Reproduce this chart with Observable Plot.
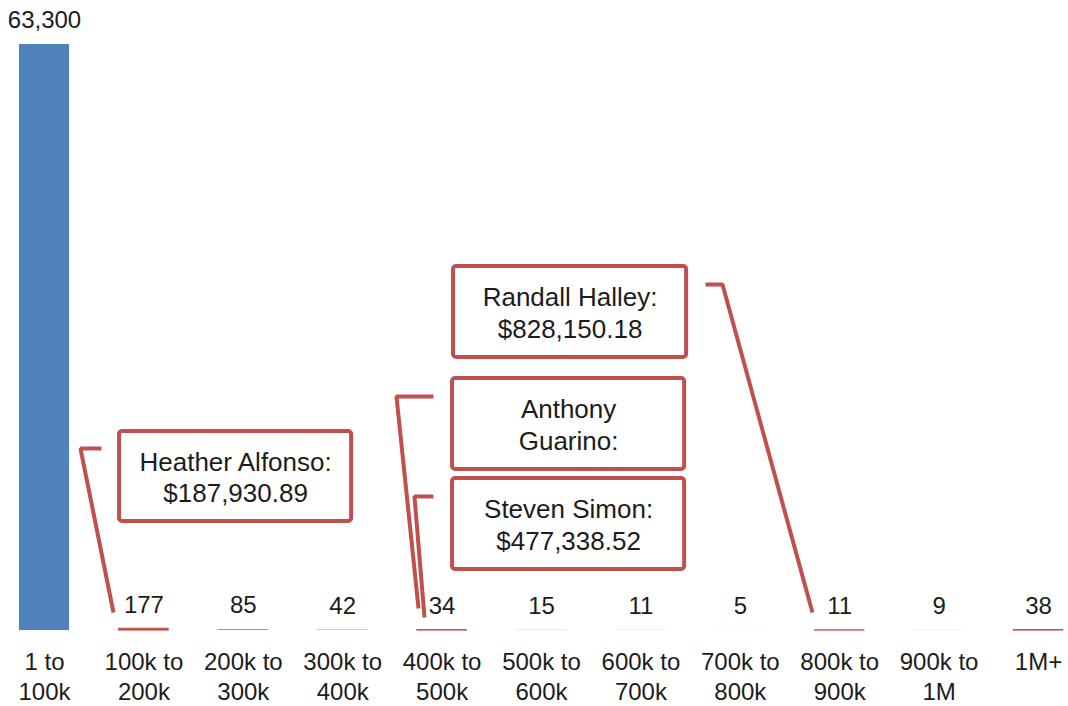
<!DOCTYPE html>
<html>
<head>
<meta charset="utf-8">
<script src="https://cdn.jsdelivr.net/npm/d3@7"></script>
<script src="https://cdn.jsdelivr.net/npm/@observablehq/plot@0.6"></script>
<style>
  html, body { margin: 0; padding: 0; background: #fff; }
  #chart svg { display: block; }
</style>
</head>
<body>
<div id="chart"></div>
<script>
// ---- data ----
const categories = ["1 to\n100k", "100k to\n200k", "200k to\n300k", "300k to\n400k", "400k to\n500k",
  "500k to\n600k", "600k to\n700k", "700k to\n800k", "800k to\n900k", "900k to\n1M", "1M+"];
const counts = [63300, 177, 85, 42, 34, 15, 11, 5, 11, 9, 38];
const highlighted = [false, true, false, false, true, false, false, false, true, false, true];

// callout texts
const calloutTexts = ["Heather Alfonso:\n$187,930.89", "Anthony\nGuarino:", "Steven Simon:\n$477,338.52", "Randall Halley:\n$828,150.18"];

// ---- annotation layout (category index units, count units) ----
const calloutBoxes = [
  {x1: 0.755, x2: 3.09, top: 21500, bottom: 11780},
  {x1: 4.105, x2: 6.44, top: 27220, bottom: 17390},
  {x1: 4.105, x2: 6.44, top: 16420, bottom: 6590},
  {x1: 4.115, x2: 6.46, top: 39320, bottom: 29490}
];
const leaderPaths = [
  [[0.573, 19660], [0.362, 19660], [0.694, 1944]],
  [[3.913, 25277], [3.541, 25277], [3.763, 2376]],
  [[3.913, 14475], [3.722, 14475], [3.823, 1404]],
  [[6.650, 37375], [6.821, 37375], [7.726, 1944]]
];

const BLUE = "#4F81BD", RED = "#C0504D", INK = "#1c1c1c";

const bars = counts.map((v, i) => ({i, v, hl: highlighted[i]}));
const boxes = calloutBoxes.map((b, k) => ({...b, text: calloutTexts[k], cx: (b.x1 + b.x2) / 2, cy: (b.top + b.bottom) / 2}));
const leaders = leaderPaths.flatMap((p, k) => p.map(([x, y]) => ({k, x, y})));

const chart = Plot.plot({
  width: 1068,
  height: 706,
  marginTop: 44,
  marginBottom: 76,
  marginLeft: 0,
  marginRight: 0,
  style: {fontFamily: "'Liberation Sans', Arial, sans-serif", color: INK, background: "#fff"},
  x: {type: "linear", domain: [-0.5, 10.5], range: [-5.7, 1087.7]},
  y: {domain: [0, 63300], axis: null},
  marks: [
    Plot.rectY(bars.filter(d => !d.hl), {x1: d => d.i - 0.252, x2: d => d.i + 0.252, y1: 0, y2: "v",
      fill: BLUE}),
    Plot.rectY(bars.filter(d => d.hl), {x1: d => d.i - 0.248, x2: d => d.i + 0.248, y1: 0, y2: "v",
      fill: RED, stroke: RED, strokeWidth: 1.2}),
    Plot.text(bars, {x: "i", y: "v", text: d => d3.format(",")(d.v), dy: -24,
      fontSize: 24, fill: INK}),
    Plot.axisX({ticks: d3.range(categories.length), tickFormat: i => categories[i],
      tickSize: 0, tickPadding: 18, fontSize: 24, lineHeight: 1.25, fill: INK, label: null}),
    Plot.line(leaders, {x: "x", y: "y", z: "k", stroke: RED, strokeWidth: 4,
      strokeLinejoin: "miter", strokeLinecap: "butt"}),
    Plot.rect(boxes, {x1: "x1", x2: "x2", y1: "bottom", y2: "top", fill: "white",
      stroke: RED, strokeWidth: 4, rx: 3}),
    Plot.text(boxes, {x: "cx", y: "cy", text: "text", fontSize: 26, lineHeight: 1.2, fill: INK})
  ]
});
document.getElementById("chart").appendChild(chart);
</script>
</body>
</html>
